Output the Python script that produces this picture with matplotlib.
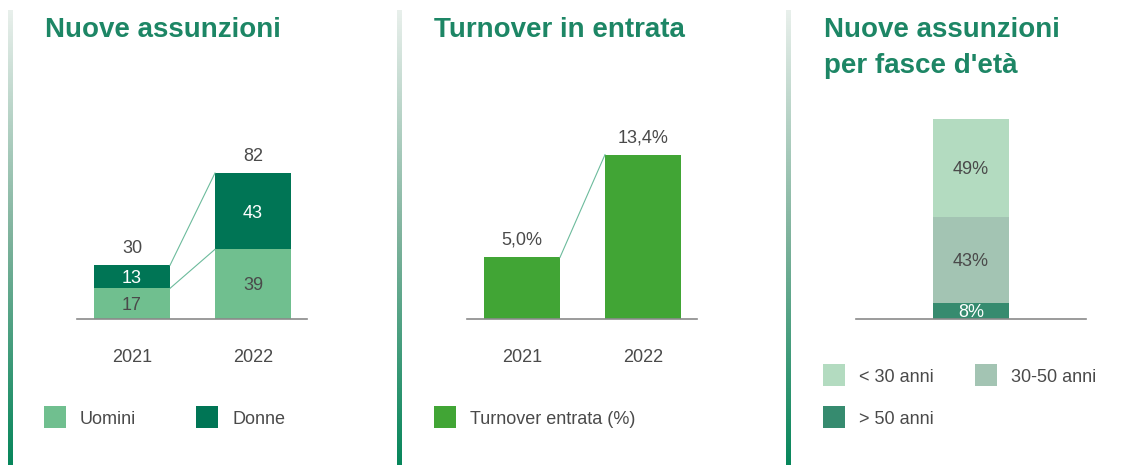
#!/usr/bin/env python3
"""
Nuove assunzioni / Turnover in entrata / Nuove assunzioni per fasce d'eta.
Three small panels side by side, laid out in pixel coords on a 1139x465 canvas.
"""
import numpy as np
import matplotlib
matplotlib.use("Agg")
import matplotlib.pyplot as plt
from matplotlib.colors import LinearSegmentedColormap
from matplotlib.patches import Rectangle

plt.rcParams["font.family"] = ["Liberation Sans", "DejaVu Sans"]

# data
years = ["2021", "2022"]
uomini = [17, 39]
donne = [13, 43]
turnover = [5.0, 13.4]
turnover_labels = ["5,0%", "13,4%"]
age_groups = ["< 30 anni", "30-50 anni", "> 50 anni"]
age_share = [49, 43, 8]

# colours
TITLE_C = "#1d8665"
TEXT_C = "#4a4a4a"
C_UOMINI = "#70bf8f"
C_DONNE = "#007555"
C_TURN = "#41a535"
C_AGE = {"< 30 anni": "#b3dbc0", "30-50 anni": "#a3c4b3", "> 50 anni": "#368b6f"}
LINK_C = "#6cbb9c"
BASE_C = "#8a8a8a"

W, H = 1139, 465
fig = plt.figure(figsize=(W / 100, H / 100), dpi=100)


def px_axes(left, right, top, bottom):
    # axes placed from pixel coordinates (y measured from the top)
    return fig.add_axes([left / W, 1 - bottom / H, (right - left) / W, (bottom - top) / H])


def style_axes(ax):
    for s in ("top", "right", "left"):
        ax.spines[s].set_visible(False)
    ax.spines["bottom"].set_color(BASE_C)
    ax.spines["bottom"].set_linewidth(1.2)
    ax.set_yticks([])
    ax.tick_params(axis="x", length=0, pad=22, labelsize=13, labelcolor=TEXT_C)
    ax.patch.set_alpha(0)


def legend_item(x, y, color, label):
    # y is the vertical centre of the square, in pixels from the top
    fig.add_artist(Rectangle((x / W, 1 - (y + 11) / H), 22 / W, 22 / H,
                             transform=fig.transFigure, color=color, lw=0))
    fig.text((x + 36) / W, 1 - y / H, label, fontsize=13, color=TEXT_C,
             va="center_baseline", ha="left")


# gradient separators
cmap = LinearSegmentedColormap.from_list("sep", ["#e9f0ec", "#7fb39d", "#07865b"])
grad = np.linspace(0, 1, 256).reshape(-1, 1)
for xs in (8, 397, 786):
    gax = fig.add_axes([xs / W, 0, 5 / W, (H - 10) / H])
    gax.imshow(grad, aspect="auto", cmap=cmap, origin="upper")
    gax.axis("off")

# titles
fig.text(45 / W, 1 - 37 / H, "Nuove assunzioni", fontsize=20, fontweight="bold",
         color=TITLE_C, va="baseline")
fig.text(434 / W, 1 - 37 / H, "Turnover in entrata", fontsize=20, fontweight="bold",
         color=TITLE_C, va="baseline")
fig.text(824 / W, 1 - 37 / H, "Nuove assunzioni", fontsize=20, fontweight="bold",
         color=TITLE_C, va="baseline")
fig.text(824 / W, 1 - 73 / H, "per fasce d'età", fontsize=20, fontweight="bold",
         color=TITLE_C, va="baseline")

bw = 76 / 121  # bar width in data units (121 px between bar centres)
xpos = np.arange(len(years))

# panel 1: nuove assunzioni, stacked
ax1 = px_axes(77, 307, 100, 318.5)
style_axes(ax1)
ax1.set_xlim(-55 / 121, 175 / 121)
ax1.set_ylim(0, 218 / 1.77)
ax1.bar(xpos, uomini, bw, color=C_UOMINI, lw=0)
ax1.bar(xpos, donne, bw, bottom=uomini, color=C_DONNE, lw=0)
tot = [u + d for u, d in zip(uomini, donne)]
for i in xpos:
    ax1.text(i, uomini[i] / 2, str(uomini[i]), ha="center", va="center_baseline",
             fontsize=13, color=TEXT_C)
    ax1.text(i, uomini[i] + donne[i] / 2, str(donne[i]), ha="center",
             va="center_baseline", fontsize=13, color="white")
    ax1.annotate(str(tot[i]), (i, tot[i]), xytext=(0, 9), textcoords="offset points",
                 ha="center", va="baseline", fontsize=13, color=TEXT_C)
ax1.plot([bw / 2, 1 - bw / 2], [tot[0], tot[1]], color=LINK_C, lw=0.8)
ax1.plot([bw / 2, 1 - bw / 2], [uomini[0], uomini[1]], color=LINK_C, lw=0.8)
ax1.set_xticks(xpos, years)

legend_item(44, 417, C_UOMINI, "Uomini")
legend_item(196, 417, C_DONNE, "Donne")

# panel 2: turnover in entrata
ax2 = px_axes(467, 697, 100, 318.5)
style_axes(ax2)
ax2.set_xlim(-55 / 121, 175 / 121)
ax2.set_ylim(0, 218 / 12.2)
ax2.bar(xpos, turnover, bw, color=C_TURN, lw=0)
for i in xpos:
    ax2.annotate(turnover_labels[i], (i, turnover[i]), xytext=(0, 9),
                 textcoords="offset points", ha="center", va="baseline",
                 fontsize=13, color=TEXT_C)
ax2.plot([bw / 2, 1 - bw / 2], turnover, color=LINK_C, lw=0.8)
ax2.set_xticks(xpos, years)

legend_item(434, 417, C_TURN, "Turnover entrata (%)")

# panel 3: nuove assunzioni per fasce d'eta, one stacked column
ax3 = px_axes(856, 1086, 100, 318.5)
style_axes(ax3)
ax3.set_xlim(-115 / 76, 115 / 76)
ax3.set_ylim(0, 218 / 1.99)
ax3.set_xticks([])
bottom = 0
for grp, val in zip(age_groups[::-1], age_share[::-1]):
    ax3.bar(0, val, 1, bottom=bottom, color=C_AGE[grp], lw=0)
    ax3.text(0, bottom + val / 2, f"{val}%", ha="center", va="center_baseline",
             fontsize=13, color="white" if grp == "> 50 anni" else TEXT_C)
    bottom += val

legend_item(823, 375, C_AGE["< 30 anni"], "< 30 anni")
legend_item(975, 375, C_AGE["30-50 anni"], "30-50 anni")
legend_item(823, 417, C_AGE["> 50 anni"], "> 50 anni")

fig.savefig("out.png", dpi=100)
